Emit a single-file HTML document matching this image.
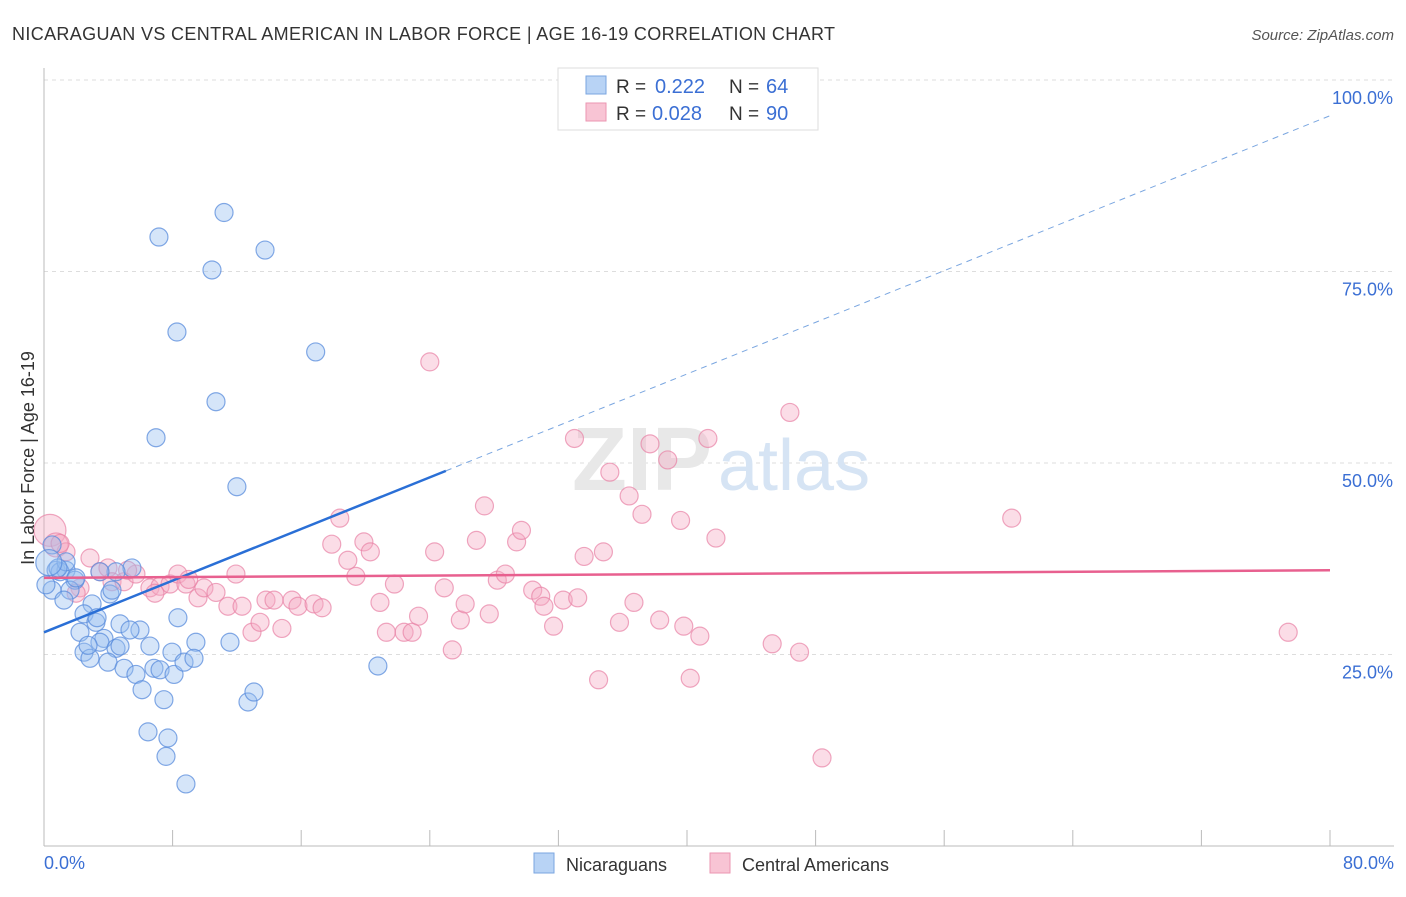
<!DOCTYPE html>
<html><head><meta charset="utf-8"><style>
body{margin:0;background:#fff;font-family:"Liberation Sans",sans-serif;}
svg text{font-family:"Liberation Sans",sans-serif;}
</style></head><body>
<svg id="chart" width="1406" height="892" xmlns="http://www.w3.org/2000/svg">
<text x="12" y="40" font-size="18" fill="#333" textLength="823">NICARAGUAN VS CENTRAL AMERICAN IN LABOR FORCE | AGE 16-19 CORRELATION CHART</text>
<text x="1394" y="40" font-size="15" fill="#555" font-style="italic" text-anchor="end">Source: ZipAtlas.com</text>
<g id="grid"></g>
<text x="712" y="490" font-size="90" fill="#e8e8e8" text-anchor="end" font-family="Liberation Serif" font-weight="bold">ZIP</text>
<text x="718" y="490" font-size="72" fill="#d6e4f4">atlas</text>
<g id="points"></g>
<g id="lines"></g>
<text transform="translate(34,458) rotate(-90)" font-size="18" fill="#333" text-anchor="middle">In Labor Force | Age 16-19</text>
<text x="44" y="869" font-size="18" fill="#3b6fd4">0.0%</text>
<text x="1394" y="869" font-size="18" fill="#3b6fd4" text-anchor="end">80.0%</text>
<g>
<rect x="558" y="68" width="260" height="62" fill="#fff" stroke="#ddd"/>
<rect x="586" y="76" width="20" height="18" fill="#b8d3f5" stroke="#7aa6e0"/>
<rect x="586" y="103" width="20" height="18" fill="#f8c4d4" stroke="#eb96b2"/>
<text x="616" y="93" font-size="19" fill="#333">R =</text>
<text x="655" y="93" font-size="20" fill="#3b6fd4">0.222</text>
<text x="729" y="93" font-size="19" fill="#333">N =</text>
<text x="766" y="93" font-size="20" fill="#3b6fd4">64</text>
<text x="616" y="120" font-size="19" fill="#333">R =</text>
<text x="652" y="120" font-size="20" fill="#3b6fd4">0.028</text>
<text x="729" y="120" font-size="19" fill="#333">N =</text>
<text x="766" y="120" font-size="20" fill="#3b6fd4">90</text>
</g>
<g>
<rect x="534" y="853" width="20" height="20" fill="#b8d3f5" stroke="#7aa6e0"/>
<text x="566" y="871" font-size="18" fill="#333">Nicaraguans</text>
<rect x="710" y="853" width="20" height="20" fill="#f8c4d4" stroke="#eb96b2"/>
<text x="742" y="871" font-size="18" fill="#333">Central Americans</text>
</g>
</svg>
<script>
const yTicks=[25,50,75,100];
const yTickLabels=["25.0%","50.0%","75.0%","100.0%"];
const xTicks=[0,8,16,24,32,40,48,56,64,72,80];
const blueX=[11.2,7.15,13.75,10.45,8.27,16.9,10.7,6.97,12.0,0.5,0.75,1.37,1.0,1.93,1.62,0.5,1.24,2.99,4.1,5.47,4.48,3.48,2.49,3.23,2.24,4.73,5.97,5.35,8.33,3.73,3.48,2.49,2.86,4.48,6.59,9.45,11.57,7.96,3.98,4.98,5.72,6.84,7.22,8.09,8.71,9.33,6.1,7.46,12.69,13.06,20.77,6.47,7.71,7.59,8.83,1.37,0.12,0.87,4.73,2.74,1.99,3.3,4.23,0.3];
const blueY=[82.7,79.5,77.8,75.2,67.1,64.5,58.0,53.3,46.9,39.3,36.0,36.0,35.8,34.7,33.4,33.4,32.1,31.6,32.9,36.3,35.8,35.8,30.3,29.2,27.9,29.0,28.2,28.2,29.8,27.1,26.6,25.3,24.5,25.8,26.1,26.6,26.6,25.3,24.0,23.2,22.4,23.2,23.0,22.4,24.0,24.5,20.4,19.1,18.8,20.1,23.5,14.9,14.1,11.7,8.1,37.1,34.1,36.3,26.1,26.2,35.0,29.8,33.4,37.0];
const pinkX=[0.37,0.75,1.37,2.86,2.24,3.48,3.98,4.23,4.98,5.72,6.59,7.22,7.84,8.33,8.83,9.58,9.95,10.7,11.44,11.94,12.32,12.94,13.44,13.81,14.31,14.8,15.43,15.8,16.8,17.3,17.9,18.4,18.9,19.4,19.9,20.3,20.9,21.3,21.8,22.4,22.9,23.3,24.0,24.3,24.9,25.4,25.9,26.2,26.9,27.4,27.7,28.2,28.7,29.4,29.7,30.4,30.9,31.1,31.7,32.3,33.0,33.2,33.6,34.5,34.8,35.2,35.8,36.4,36.7,37.2,37.7,38.3,38.8,39.6,39.8,40.2,40.8,41.3,41.8,45.3,46.4,47.0,48.4,60.2,77.4,1.0,2.0,5.2,6.9,9.0];
const pinkY=[41.2,39.3,38.4,37.6,33.7,35.8,36.3,34.5,34.5,35.5,33.7,33.9,34.2,35.5,34.2,32.4,33.7,33.1,31.3,35.5,31.3,27.9,29.2,32.1,32.1,28.4,32.1,31.3,31.6,31.1,39.4,42.8,37.3,35.2,39.7,38.4,31.8,27.9,34.2,27.9,27.9,30.0,63.2,38.4,33.7,25.6,29.5,31.6,39.9,44.4,30.3,34.7,35.5,39.7,41.2,33.4,32.6,31.3,28.7,32.1,53.2,32.4,37.8,21.7,38.4,48.8,29.2,45.7,31.8,43.3,52.5,29.5,50.4,42.5,28.7,21.9,27.4,53.2,40.2,26.4,56.6,25.3,11.5,42.8,27.9,39.5,33.0,36.0,33.0,34.8];
const blueLine=[27.9,0.843];
const pinkLine=[35.0,0.0125];
const X0=44,X1=1330,Y0=846,PX100=766;
const sx=v=>X0+(v/80)*(X1-X0);
const sy=v=>Y0-v/100*PX100;
const NS="http://www.w3.org/2000/svg";
function mk(tag,attrs,parent){const e=document.createElementNS(NS,tag);for(const k in attrs)e.setAttribute(k,attrs[k]);parent.appendChild(e);return e;}
const grid=document.getElementById('grid');
yTicks.forEach((t,i)=>{
 const l=mk('line',{x1:X0,x2:1394,y1:sy(t),y2:sy(t),stroke:'#ddd','stroke-dasharray':'4,4'},grid);
 
 
 const tx=mk('text',{x:1393,y:sy(t)+24,'font-size':18,fill:'#3b6fd4','text-anchor':'end'},grid);
 tx.textContent=yTickLabels[i];
 
 
});
const ax=mk('line',{x1:X0,x2:X0,y1:68,y2:Y0,stroke:'#bbb'},grid);


const bx=mk('line',{x1:X0,x2:1394,y1:Y0,y2:Y0,stroke:'#bbb'},grid);


xTicks.forEach(t=>{
 const l=mk('line',{x1:sx(t),x2:sx(t),y1:Y0-16,y2:Y0,stroke:'#bbb'},grid);
 
 
});
const pts=document.getElementById('points');
pinkX.forEach((x,i)=>{
 const c=mk('circle',{cx:sx(x),cy:sy(pinkY[i]),r:i==0?16:(i==1?12:9),fill:'rgba(244,170,195,0.4)',stroke:'rgba(232,130,165,0.7)','stroke-width':1.2},pts);
 
 
});
blueX.forEach((x,i)=>{
 const c=mk('circle',{cx:sx(x),cy:sy(blueY[i]),r:i==63?13:9,fill:'rgba(150,190,240,0.4)',stroke:'rgba(90,140,220,0.75)','stroke-width':1.2},pts);
 
 
});
const ln=document.getElementById('lines');
const bl=mk('line',{x1:sx(0),y1:sy(blueLine[0]),x2:sx(25),y2:sy(blueLine[0]+blueLine[1]*25),stroke:'#2a6fd6','stroke-width':2.5},ln);


const bd=mk('line',{x1:sx(25),y1:sy(blueLine[0]+blueLine[1]*25),x2:sx(80),y2:sy(blueLine[0]+blueLine[1]*80),stroke:'#7aa6e0','stroke-width':1,'stroke-dasharray':'6,5'},ln);


const pl=mk('line',{x1:sx(0),y1:sy(pinkLine[0]),x2:sx(80),y2:sy(pinkLine[0]+pinkLine[1]*80),stroke:'#e8608f','stroke-width':2.5},ln);


</script>
</body></html>
